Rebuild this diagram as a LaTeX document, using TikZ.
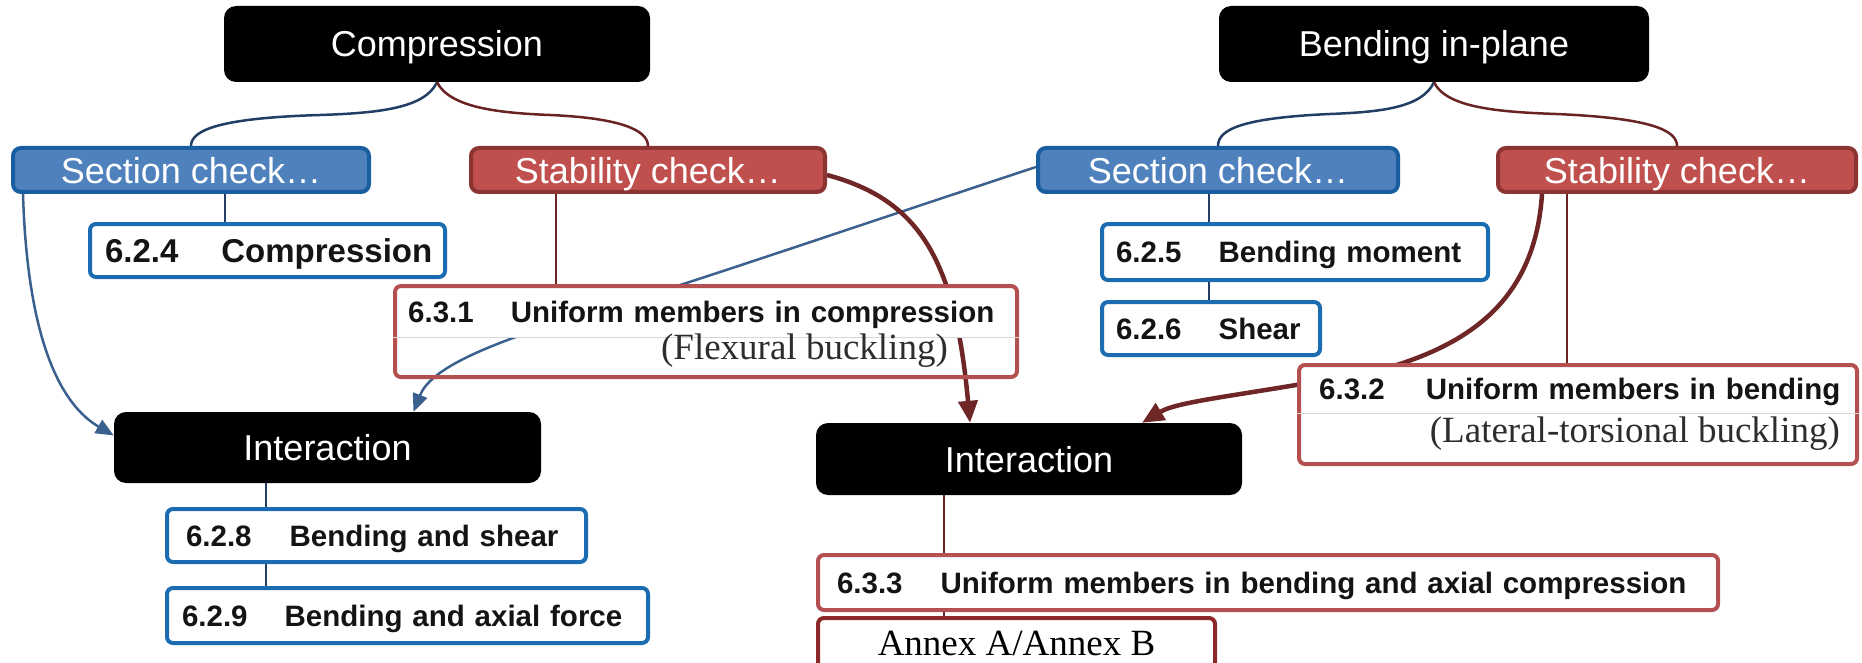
\documentclass[tikz,border=0pt]{standalone}
\usepackage{fontspec}
\setmainfont{Liberation Sans}
\newfontfamily\tnr{Liberation Serif}
\usetikzlibrary{arrows.meta,calc}
\pgfdeclarelayer{bg}
\pgfdeclarelayer{arr}
\pgfsetlayers{bg,arr,main}
\definecolor{secfill}{RGB}{79,129,189}
\definecolor{secdraw}{RGB}{24,94,160}
\definecolor{stabfill}{RGB}{192,80,77}
\definecolor{stabdraw}{RGB}{140,52,50}
\definecolor{wblue}{RGB}{28,108,178}
\definecolor{rline}{RGB}{180,80,80}
\definecolor{annexc}{RGB}{140,40,42}
\definecolor{navyc}{RGB}{35,62,100}
\definecolor{maroonc}{RGB}{105,35,35}
\definecolor{arrowblue}{RGB}{58,96,142}
\definecolor{arrowred}{RGB}{110,38,38}
\definecolor{divc}{RGB}{215,215,215}
\definecolor{txt}{RGB}{20,20,20}
\definecolor{serift}{RGB}{45,45,45}
\tikzset{
  topbox/.style={fill=black, rounded corners=12pt, text=white, inner sep=0pt,
    font=\fontsize{36}{40}\selectfont, text height=26pt, text depth=0pt},
  chkbox/.style={line width=4pt, rounded corners=8pt, text=white, inner sep=0pt,
    minimum height=44pt, font=\fontsize{36}{40}\selectfont, text height=26pt, text depth=0pt},
  secbox/.style={chkbox, fill=secfill, draw=secdraw},
  stabbox/.style={chkbox, fill=stabfill, draw=stabdraw},
  wbox/.style={fill=white, draw=wblue, line width=4pt, rounded corners=6pt, align=left,
    inner ysep=0pt, text=txt, font=\bfseries\fontsize{29.5}{36}\selectfont,
    text height=21.2pt, text depth=0pt},
  hdr/.style={fill=white, align=left, inner ysep=0pt, text=txt,
    font=\bfseries\fontsize{29.5}{36}\selectfont, text height=21.2pt, text depth=0pt},
  rbox/.style={draw=rline, line width=4pt, rounded corners=6pt, inner sep=0pt},
  subtxt/.style={inner sep=0pt, text=serift, font=\tnr\fontsize{37}{40}\selectfont},
  anbox/.style={fill=white, draw=annexc, line width=4pt, rounded corners=6pt, inner sep=0pt,
    text=black, font=\tnr\fontsize{37}{40}\selectfont},
  blueconn/.style={draw=navyc, line width=2.5pt},
  redconn/.style={draw=maroonc, line width=2.5pt},
  bluethin/.style={draw=navyc, line width=1.5pt},
  redthin/.style={draw=maroonc, line width=1.5pt},
  divline/.style={draw=divc, line width=1.5pt},
  barrow/.style={draw=arrowblue, line width=2.5pt, -{Triangle[length=18pt,width=15pt]}},
  rarrow/.style={draw=arrowred, line width=4.5pt, -{Triangle[length=22pt,width=19pt]}},
}
\begin{document}
\begin{tikzpicture}[x=1pt,y=-1pt]
\useasboundingbox (0,0) rectangle (1862,663);
\begin{pgfonlayer}{bg}
  \fill[white] (0,0) rectangle (1862,663);
\end{pgfonlayer}

% top level
\node[topbox, minimum width=426pt, minimum height=76pt] (comp) at (437,44) {Compression};
\node[topbox, minimum width=430pt, minimum height=76pt] (bend) at (1434,44) {Bending in-plane};

% check boxes
\node[secbox, minimum width=356pt] (secL) at (191,170) {Section check…};
\node[stabbox, minimum width=354pt] (stabL) at (648,170) {Stability check…};
\node[secbox, minimum width=360pt] (secR) at (1218,170) {Section check…};
\node[stabbox, minimum width=358pt] (stabR) at (1677,170) {Stability check…};

% left column boxes
\node[wbox, anchor=north west, minimum height=53pt, text width=325pt, inner xsep=15pt,
  font=\bfseries\fontsize{33}{36}\selectfont, text height=23.6pt] (s624) at (88,222) {\mbox{6.2.4\hspace{43pt}Compression}};

% 6.3.1
\node[hdr, anchor=north west, minimum height=51pt, text width=592pt, inner xsep=13pt] (s631) at (395,286)
  {\mbox{6.3.1\hspace{37pt}Uniform members in compression}};
\node[rbox, anchor=north west, minimum width=622pt, minimum height=91pt] (s631box) at (393,284) {};
\draw[divline] (s631box.west |- s631.south) -- (s631box.east |- s631.south);
\node[subtxt, anchor=east] (s631s) at (948,351) {(Flexural buckling)};

% right section boxes
\node[wbox, anchor=north west, minimum height=56pt, text width=358pt, inner xsep=14pt] (s625) at (1100,222)
  {\mbox{6.2.5\hspace{37pt}Bending moment}};
\node[wbox, anchor=north west, minimum height=53pt, text width=190pt, inner xsep=14pt] (s626) at (1100,300)
  {\mbox{6.2.6\hspace{37pt}Shear}};

% 6.3.2
\node[hdr, anchor=north west, minimum height=48pt, text width=514pt, inner xsep=20pt] (s632) at (1299,365)
  {\mbox{6.3.2\hspace{41pt}Uniform members in bending}};
\node[rbox, anchor=north west, minimum width=558pt, minimum height=99pt] (s632box) at (1297,363) {};
\draw[divline] (s632box.west |- s632.south) -- (s632box.east |- s632.south);
\node[subtxt, anchor=east] (s632s) at (1840,434) {(Lateral-torsional buckling)};

% interaction boxes
\node[topbox, minimum width=427pt, minimum height=71pt] (interL) at (327.5,447.5) {Interaction};
\node[topbox, minimum width=426pt, minimum height=72pt] (interR) at (1029,459) {Interaction};

\node[wbox, anchor=north west, minimum height=53pt, text width=381pt, inner xsep=19pt] (s628) at (165,507)
  {\mbox{6.2.8\hspace{38pt}Bending and shear}};
\node[wbox, anchor=north west, minimum height=55pt, text width=451pt, inner xsep=15pt] (s629) at (165,586)
  {\mbox{6.2.9\hspace{37pt}Bending and axial force}};

\node[wbox, draw=rline, anchor=north west, minimum height=55pt, text width=862pt, inner xsep=19pt] (s633) at (816,553)
  {\mbox{6.3.3\hspace{38pt}Uniform members in bending and axial compression}};
\node[anbox, anchor=north west, minimum width=397pt, minimum height=50pt] (annex) at (816,616) {Annex A/Annex B};

% brace connectors
\draw[blueconn] (comp.south) .. controls (425,108) and (380,113) .. (320,115)
  .. controls (220,118) and (191,130) .. (secL.north);
\draw[redconn] (comp.south) .. controls (450,108) and (500,113) .. (550,115)
  .. controls (620,118) and (648,130) .. (stabL.north);
\draw[blueconn] (bend.south) .. controls (1422,108) and (1380,112) .. (1330,114)
  .. controls (1240,118) and (1218,130) .. (secR.north);
\draw[redconn] (bend.south) .. controls (1446,108) and (1500,112) .. (1556,114)
  .. controls (1650,118) and (1677,130) .. (stabR.north);

% thin tree lines
\coordinate (xl) at (225,0);
\coordinate (xs) at (556,0);
\coordinate (xr) at (1209,0);
\coordinate (xt) at (1567,0);
\coordinate (xi) at (266,0);
\coordinate (xj) at (944,0);
\begin{pgfonlayer}{arr}
\draw[bluethin] (secL.south -| xl) -- (s624.north -| xl);
\draw[redthin] (stabL.south -| xs) -- (s631box.north -| xs);
\draw[bluethin] (secR.south -| xr) -- (s625.north -| xr);
\draw[bluethin] (s625.south -| xr) -- (s626.north -| xr);
\draw[redthin] (stabR.south -| xt) -- (s632box.north -| xt);
\draw[bluethin] (interL.south -| xi) -- (s628.north -| xi);
\draw[bluethin] (s628.south -| xi) -- (s629.north -| xi);
\draw[redthin] (interR.south -| xj) -- (s633.north -| xj);
\draw[redthin] (s633.south -| xj) -- (annex.north -| xj);

% arrows
\draw[barrow] ([xshift=12pt]secL.south west) .. controls (28,360) and (70,410) .. ([yshift=12pt]interL.west);
\draw[barrow] ([yshift=3pt]secR.west) .. controls (800,245) and (700,280) .. (600,310)
  .. controls (480,345) and (430,370) .. ([xshift=86pt]interL.north);
\draw[rarrow] ([yshift=-5pt]stabL.east) .. controls (920,200) and (955,260) .. ([xshift=-59pt]interR.north);
\draw[rarrow] ([xshift=-135pt]stabR.south) .. controls (1535,300) and (1470,345) .. (1380,370)
  .. controls (1250,395) and (1180,400) .. ([xshift=113pt]interR.north);
\end{pgfonlayer}
\end{tikzpicture}
\end{document}
